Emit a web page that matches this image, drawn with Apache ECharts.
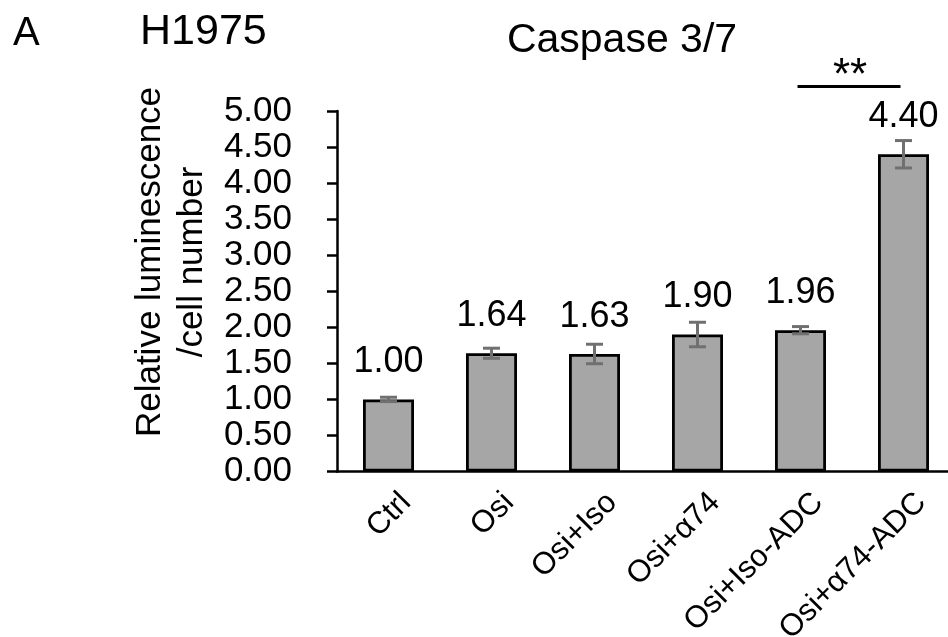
<!DOCTYPE html>
<html>
<head>
<meta charset="utf-8">
<script src="https://cdn.jsdelivr.net/npm/echarts@6/dist/echarts.min.js"></script>
<style>
html,body{margin:0;padding:0;background:#fff;}
#chart{width:948px;height:637px;}
</style>
</head>
<body>
<div id="chart"></div>
<script>
const categories = ['Ctrl', 'Osi', 'Osi+Iso', 'Osi+α74', 'Osi+Iso-ADC', 'Osi+α74-ADC'];
const values = [1.00, 1.64, 1.63, 1.90, 1.96, 4.40];
const errors = [0.03, 0.07, 0.135, 0.17, 0.05, 0.19];
const sigPairs = [[4, 5, 5.34, '**']];
const yTicks = {min: 0, max: 5, interval: 0.5};

const FONT = '"Liberation Sans", Arial, sans-serif';
const chart = echarts.init(document.getElementById('chart'), null, {renderer: 'canvas'});

const option = {
  backgroundColor: '#fff',
  animation: false,
  grid: {left: 337, top: 111, width: 618, height: 360.5, containLabel: false, outerBoundsMode: 'none'},
  xAxis: {
    type: 'category',
    data: categories,
    axisLine: {lineStyle: {color: '#000', width: 2.5}},
    axisTick: {show: false},
    axisLabel: {
      rotate: 45, fontSize: 31, fontFamily: FONT, color: '#000',
      margin: 44, padding: [0, -25, 0, 0], interval: 0, hideOverlap: false
    }
  },
  yAxis: {
    type: 'value',
    min: yTicks.min, max: yTicks.max, interval: yTicks.interval,
    axisLine: {show: true, lineStyle: {color: '#000', width: 2.5}},
    axisTick: {show: true, length: 10, lineStyle: {color: '#000', width: 2.5}},
    splitLine: {show: false},
    axisLabel: {
      fontSize: 35, fontFamily: FONT, color: '#000', margin: 45,
      showMinLabel: true, showMaxLabel: true, hideOverlap: false,
      formatter: v => v.toFixed(2)
    }
  },
  series: [
    {
      type: 'bar',
      data: values,
      barWidth: 51,
      itemStyle: {color: '#a6a6a6', borderColor: '#000', borderWidth: 2.8},
      label: {
        show: true, position: 'top', distance: 19,
        fontSize: 36, fontFamily: FONT, color: '#000',
        formatter: p => p.value.toFixed(2)
      },
      z: 2
    },
    {
      type: 'custom',
      data: values.map((v, i) => [i, v, errors[i]]),
      z: 5,
      renderItem: function (params, api) {
        const x = api.value(0), y = api.value(1), e = api.value(2);
        const top = api.coord([x, y + e]);
        const bot = api.coord([x, y - e]);
        const hw = 8.5;
        const st = {stroke: '#707070', lineWidth: 3};
        return {
          type: 'group',
          children: [
            {type: 'line', shape: {x1: top[0], y1: top[1], x2: bot[0], y2: bot[1]}, style: st},
            {type: 'line', shape: {x1: top[0] - hw, y1: top[1], x2: top[0] + hw, y2: top[1]}, style: st},
            {type: 'line', shape: {x1: bot[0] - hw, y1: bot[1], x2: bot[0] + hw, y2: bot[1]}, style: st}
          ]
        };
      }
    },
    {
      type: 'custom',
      data: sigPairs.map(s => [s[0], s[1], s[2]]),
      clip: false,
      z: 6,
      renderItem: function (params, api) {
        const a = api.coord([api.value(0), api.value(2)]);
        const b = api.coord([api.value(1), api.value(2)]);
        const x1 = a[0] - 3, x2 = b[0] - 3;
        return {
          type: 'group',
          children: [
            {type: 'line', shape: {x1: x1, y1: a[1], x2: x2, y2: a[1]}, style: {stroke: '#000', lineWidth: 3}},
            {type: 'text', style: {text: sigPairs[params.dataIndex][3], x: (x1 + x2) / 2 + 1, y: a[1] + 12,
              textAlign: 'center', textVerticalAlign: 'bottom', font: '44px ' + FONT, fill: '#000'}}
          ]
        };
      }
    }
  ],
  graphic: [
    {type: 'text', left: 13, top: 14, style: {text: 'A', font: '40px ' + FONT, fill: '#000'}},
    {type: 'text', left: 140, top: 11, style: {text: 'H1975', font: '43px ' + FONT, fill: '#000'}},
    {type: 'text', x: 622, y: 41, style: {text: 'Caspase 3/7', font: '41px ' + FONT, fill: '#000', textAlign: 'center', textVerticalAlign: 'middle'}},
    {type: 'text', x: 171, y: 262, rotation: Math.PI / 2,
      style: {text: 'Relative luminescence\n/cell number', font: '35px ' + FONT, lineHeight: 42, fill: '#000', textAlign: 'center', textVerticalAlign: 'middle'}}
  ]
};
chart.setOption(option);
</script>
</body>
</html>
